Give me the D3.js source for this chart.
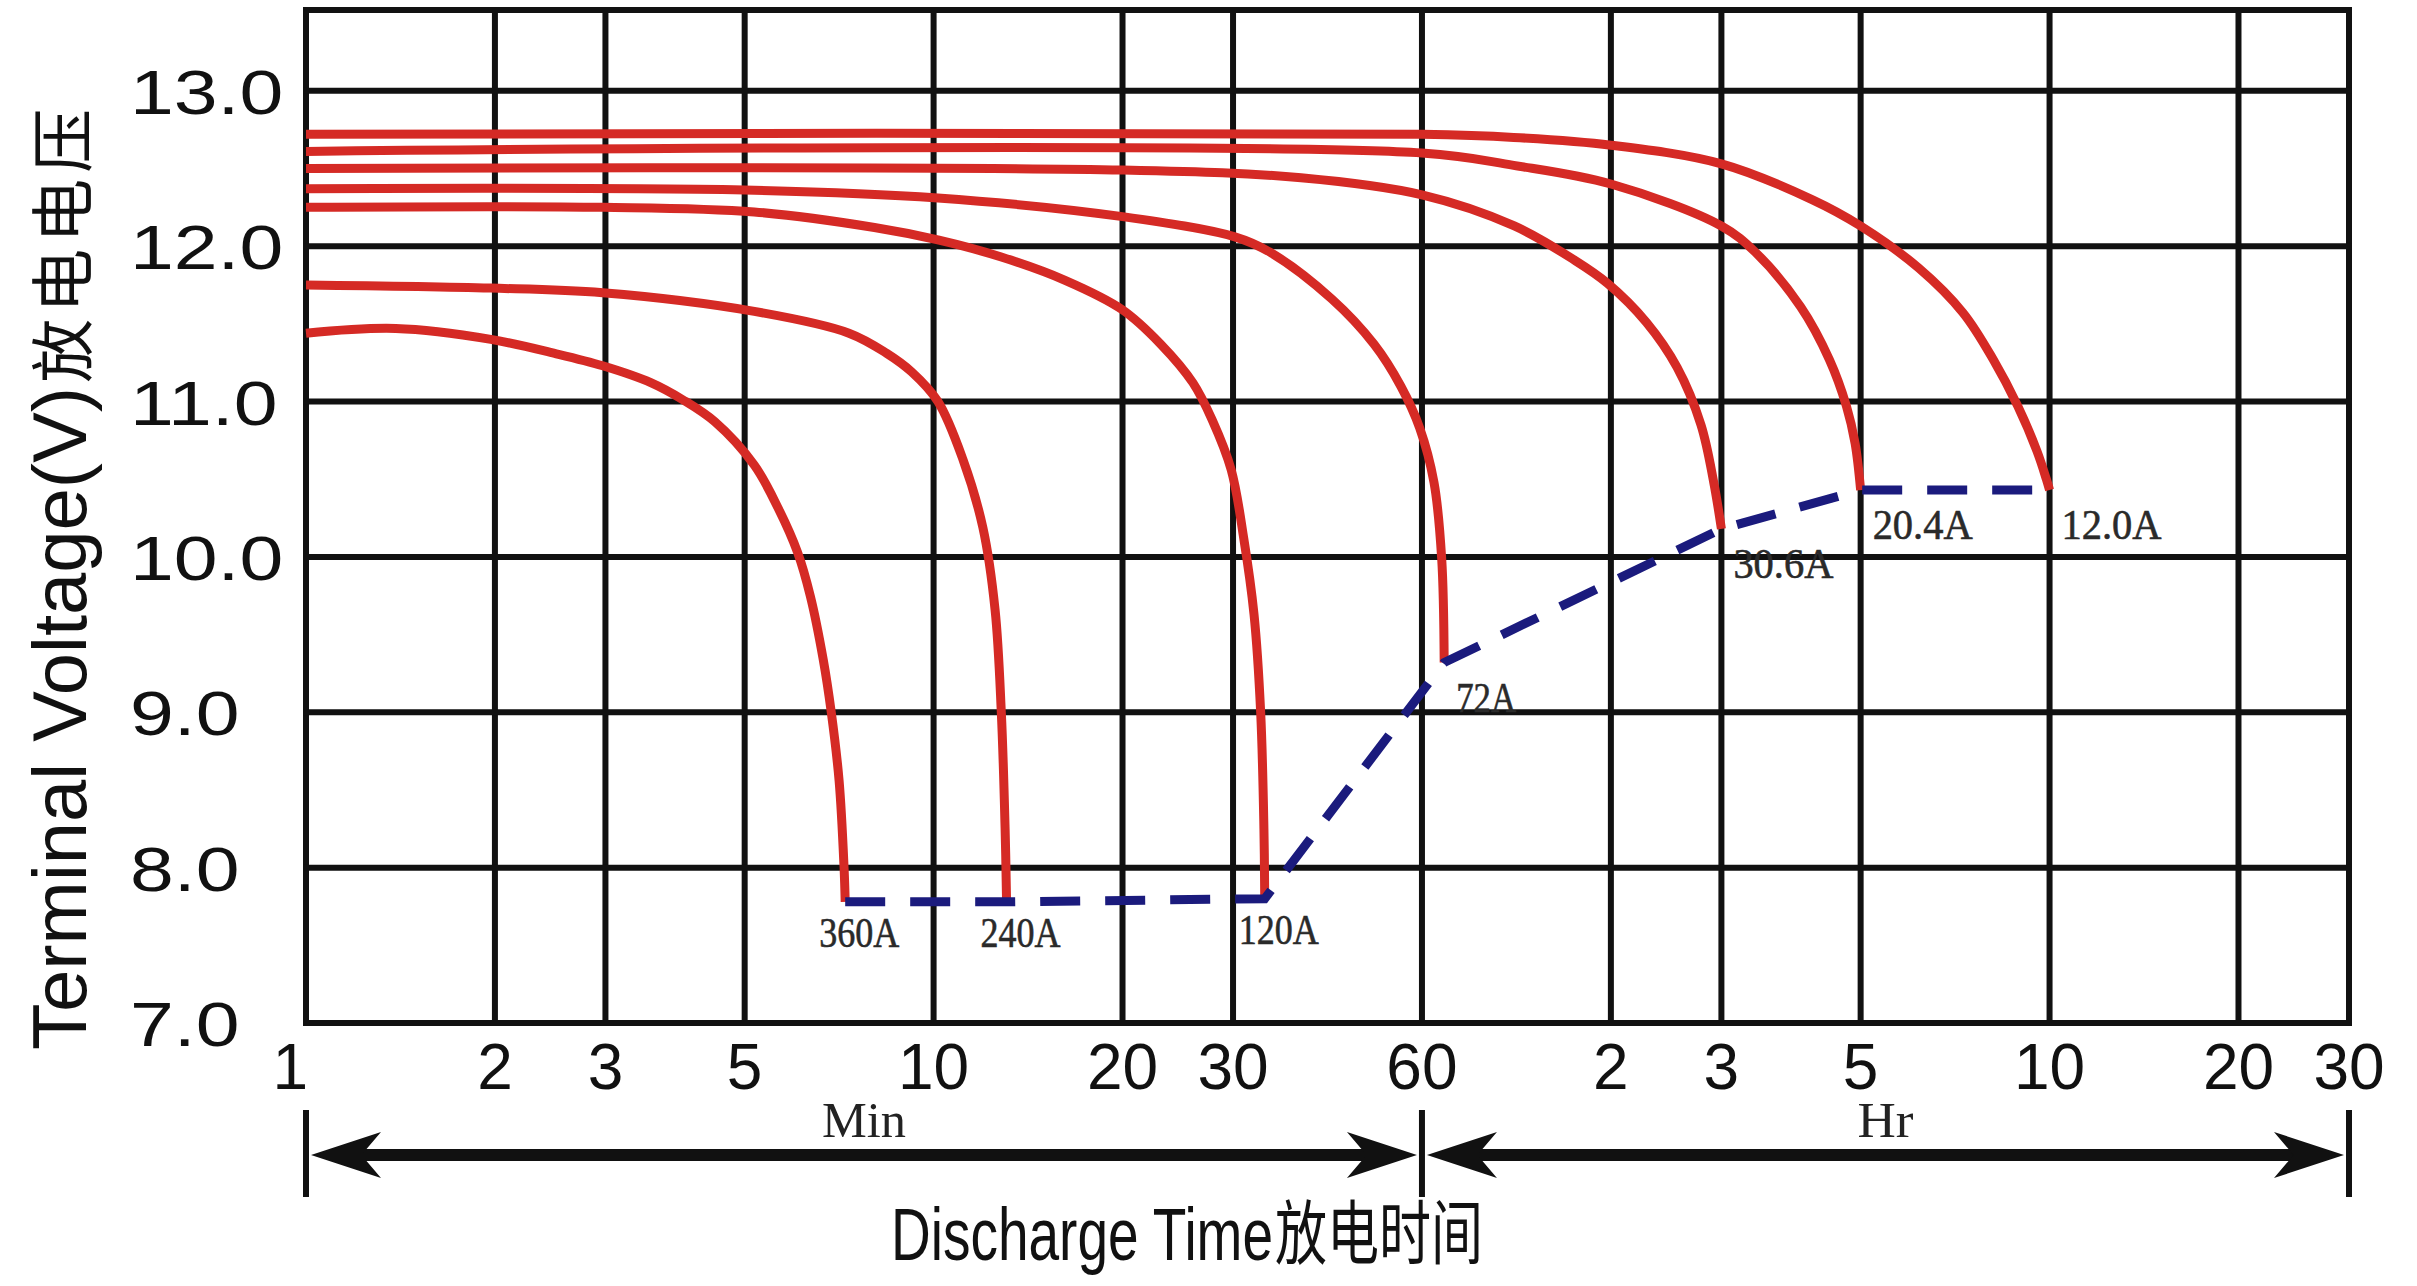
<!DOCTYPE html>
<html>
<head>
<meta charset="utf-8">
<script src="https://cdn.jsdelivr.net/npm/d3@7"></script>
<style>
  html, body { margin: 0; padding: 0; background: #fff; }
  svg { display: block; }
</style>
</head>
<body>
<div id="chart"></div>
<script>
const W = 2417, H = 1286;
const M = {left: 306, right: 2349, top: 10, bottom: 1023};

// time axis: ticks in minutes, and what is printed under them
const timeTicks = [1, 2, 3, 5, 10, 20, 30, 60, 120, 180, 300, 600, 1200, 1800];
const timeLabels = ["1", "2", "3", "5", "10", "20", "30", "60", "2", "3", "5", "10", "20", "30"];
const voltTicks = [7, 8, 9, 10, 11, 12, 13];

const currents = ["360A", "240A", "120A", "72A", "30.6A", "20.4A", "12.0A"];

// discharge curves, [minutes, volts]
const curve360 = [[1, 11.44], [1.39, 11.47], [1.97, 11.4], [2.49, 11.31], [2.97, 11.23], [3.55, 11.12],
  [3.99, 11.01], [4.48, 10.87], [5.18, 10.59], [5.66, 10.31], [6.07, 10.03], [6.36, 9.75], [6.67, 9.34],
  [6.87, 9.0], [7.07, 8.56], [7.2, 8.0], [7.23, 7.78]];
const curve240 = [[1, 11.75], [1.97, 11.73], [2.97, 11.7], [5.18, 11.58], [7.33, 11.44], [8.42, 11.31],
  [9.23, 11.19], [10.16, 11.0], [11.13, 10.63], [11.98, 10.19], [12.53, 9.66], [12.82, 9.0], [13.0, 8.25],
  [13.07, 7.78]];
const curve120 = [[1, 12.25], [2.97, 12.25], [5.18, 12.22], [8.05, 12.12], [10.16, 12.04], [12.82, 11.93],
  [16.2, 11.78], [20, 11.59], [23, 11.37], [25.9, 11.12], [27.8, 10.88], [29.8, 10.56], [31.2, 10.12],
  [32.4, 9.63], [33.2, 9.0], [33.6, 8.25], [33.7, 7.8]];
const curve72 = [[1, 12.37], [5.18, 12.36], [10.16, 12.31], [20, 12.19], [30.2, 12.06], [34.4, 11.96],
  [43.1, 11.66], [50.3, 11.37], [55.5, 11.1], [59.5, 10.83], [62.7, 10.48], [64.5, 9.99], [65.1, 9.32]];
const curve30_6 = [[1, 12.5], [20, 12.49], [38.5, 12.44], [60, 12.33], [84.2, 12.13], [105, 11.91],
  [118.6, 11.76], [136.7, 11.51], [153, 11.22], [167, 10.85], [175, 10.48], [180, 10.18]];
const curve20_4 = [[1, 12.61], [60, 12.6], [84, 12.52], [120, 12.4], [180, 12.13], [204, 11.96],
  [240.7, 11.61], [267.5, 11.27], [284.8, 10.97], [294, 10.73], [300, 10.43]];
const curve12 = [[1, 12.72], [60, 12.72], [84, 12.7], [120, 12.65], [180, 12.53], [251, 12.3], [300, 12.13],
  [371, 11.86], [437, 11.57], [488, 11.27], [534, 10.97], [573, 10.68], [593, 10.5], [600, 10.43]];

const curves = [curve360, curve240, curve120, curve72, curve30_6, curve20_4, curve12];

const RED = "#d52a25";
const NAVY = "#1b1b7d";
const INK = "#111";

const svg = d3.select("#chart").append("svg")
  .attr("width", W)
  .attr("height", H)
  .style("background", "#fff");

const x = d3.scaleLog().domain([1, 1800]).range([M.left, M.right]);
const y = d3.scaleLinear().domain([7, 13.52]).range([M.bottom, M.top]);

// grid
const grid = svg.append("g").attr("stroke", INK).attr("stroke-width", 6);
grid.selectAll("line.v")
  .data(timeTicks)
  .enter().append("line")
  .attr("class", "v")
  .attr("x1", d => x(d)).attr("x2", d => x(d))
  .attr("y1", M.top - 3).attr("y2", M.bottom + 3);
grid.selectAll("line.h")
  .data(voltTicks.concat([13.52]))
  .enter().append("line")
  .attr("class", "h")
  .attr("x1", M.left - 3).attr("x2", M.right + 3)
  .attr("y1", d => y(d)).attr("y2", d => y(d));

// y tick labels, wide glyphs
svg.append("g")
  .selectAll("text")
  .data(voltTicks)
  .enter().append("text")
  .text(d => d.toFixed(1))
  .attr("x", 130)
  .attr("y", d => y(d) + 23)
  .attr("font-family", "Liberation Sans, Arial, sans-serif")
  .attr("font-size", 63)
  .attr("fill", INK)
  .each(function () {
    const w = this.getComputedTextLength();
    d3.select(this).attr("textLength", w * 1.25).attr("lengthAdjust", "spacingAndGlyphs");
  });

// x tick labels
svg.append("g")
  .selectAll("text")
  .data(timeTicks)
  .enter().append("text")
  .text((d, i) => timeLabels[i])
  .attr("x", (d, i) => i === 0 ? x(d) + 2 : x(d))
  .attr("y", M.bottom + 66)
  .attr("text-anchor", (d, i) => i === 0 ? "end" : "middle")
  .attr("font-family", "Liberation Sans, Arial, sans-serif")
  .attr("font-size", 64)
  .attr("fill", INK);

// discharge curves
const line = d3.line()
  .x(d => x(d[0]))
  .y(d => y(d[1]))
  .curve(d3.curveCatmullRom.alpha(0.5));

svg.append("g")
  .selectAll("path")
  .data(curves)
  .enter().append("path")
  .attr("d", line)
  .attr("fill", "none")
  .attr("stroke", RED)
  .attr("stroke-width", 9);

// cut-off voltage line through curve ends
const ends = curves.map(c => c[c.length - 1]);
svg.append("path")
  .datum(ends)
  .attr("d", d3.line().x(d => x(d[0])).y(d => y(d[1])))
  .attr("fill", "none")
  .attr("stroke", NAVY)
  .attr("stroke-width", 9)
  .attr("stroke-dasharray", "40 25");

// current labels
svg.append("g")
  .selectAll("text")
  .data(ends)
  .enter().append("text")
  .text((d, i) => currents[i])
  .attr("x", d => x(d[0]) + (d[1] < 8 ? -26 : 12))
  .attr("y", d => y(d[1]) + (d[1] < 8 ? 45 : 49))
  .attr("font-family", "Liberation Serif, Times New Roman, serif")
  .attr("font-size", 42)
  .attr("fill", "#2a2a2a")
  .attr("stroke", "#2a2a2a")
  .attr("stroke-width", 0.6)
  .attr("textLength", (d, i) => currents[i].length * 20)
  .attr("lengthAdjust", "spacingAndGlyphs");

// Min / Hr range arrows
const arrowY = 1155;
const arrows = svg.append("g");
const spans = [[1, 60, "Min"], [60, 1800, "Hr"]];
const head = (tipX, dir) => {
  const len = 70, hw = 23;
  return `M${tipX},${arrowY} L${tipX + dir * len},${arrowY - hw} L${tipX + dir * len * 0.72},${arrowY} L${tipX + dir * len},${arrowY + hw} Z`;
};
spans.forEach(s => {
  const a = x(s[0]), b = x(s[1]);
  arrows.append("line")
    .attr("x1", a + 30).attr("x2", b - 30)
    .attr("y1", arrowY).attr("y2", arrowY)
    .attr("stroke", INK).attr("stroke-width", 12);
  arrows.append("path").attr("d", head(a + 5, 1)).attr("fill", INK);
  arrows.append("path").attr("d", head(b - 5, -1)).attr("fill", INK);
  arrows.append("text")
    .text(s[2])
    .attr("x", (a + b) / 2)
    .attr("y", 1137)
    .attr("text-anchor", "middle")
    .attr("font-family", "Liberation Serif, Times New Roman, serif")
    .attr("font-size", 50)
    .attr("fill", "#222")
    .attr("textLength", s[2].length * 28)
    .attr("lengthAdjust", "spacingAndGlyphs");
});
arrows.selectAll("line.bar")
  .data([1, 60, 1800])
  .enter().append("line")
  .attr("class", "bar")
  .attr("x1", d => x(d)).attr("x2", d => x(d))
  .attr("y1", 1110).attr("y2", 1197)
  .attr("stroke", INK).attr("stroke-width", 6);

// axis titles; the bottom one is tall and narrow, so it is stretched upward
const xTitle = svg.append("text")
  .attr("transform", "translate(891,1260) scale(1,1.36)")
  .attr("font-family", "Liberation Sans, Arial, sans-serif")
  .attr("font-size", 55)
  .attr("fill", INK);
xTitle.append("tspan").text("Discharge Time");
xTitle.append("tspan")
  .text("放电时间")
  .attr("font-family", "Noto Sans CJK SC, sans-serif")
  .attr("font-size", 52)
  .attr("dx", 2)
  .attr("dy", -1);

const yTitle = svg.append("text")
  .attr("transform", "translate(86,1050) rotate(-90)")
  .attr("font-family", "Liberation Sans, Arial, sans-serif")
  .attr("font-size", 76)
  .attr("fill", INK);
yTitle.append("tspan").text("Terminal Voltage(V)");
yTitle.append("tspan")
  .text("放电电压")
  .attr("font-family", "Noto Sans CJK SC, sans-serif")
  .attr("font-size", 64)
  .attr("letter-spacing", 6)
  .attr("dx", 4);
</script>
</body>
</html>
